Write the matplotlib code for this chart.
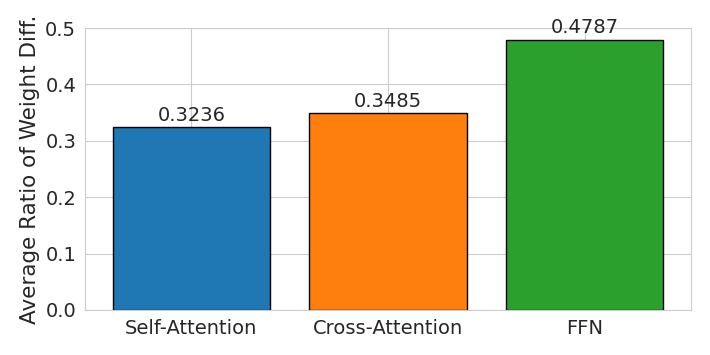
import matplotlib
matplotlib.use("Agg")
import matplotlib.pyplot as plt
import seaborn as sns

categories = ["Self-Attention", "Cross-Attention", "FFN"]
values = [0.3236, 0.3485, 0.4787]
colors = ["#1f77b4", "#ff7f0e", "#2ca02c"]

sns.set_style("whitegrid")
plt.rcParams['font.family'] = ['DejaVu Sans']

fig, ax = plt.subplots(figsize=(7.1, 3.55), dpi=100)
bars = ax.bar(categories, values, color=colors, edgecolor="black", linewidth=1, width=0.8)
for b, v in zip(bars, values):
    ax.text(b.get_x() + b.get_width() / 2, v + 0.005, f"{v:.4f}",
            ha="center", va="bottom", fontsize=14)

ax.set_ylim(0, 0.5)
ax.set_yticks([0.0, 0.1, 0.2, 0.3, 0.4, 0.5])
ax.set_ylabel("Average Ratio of Weight Diff.", fontsize=15.5, labelpad=4)
ax.tick_params(axis="both", labelsize=14, pad=3)
for s in ax.spines.values():
    s.set_color("#cccccc")

fig.subplots_adjust(left=0.12, right=0.973, top=0.921, bottom=0.127)
plt.savefig("out.png")
